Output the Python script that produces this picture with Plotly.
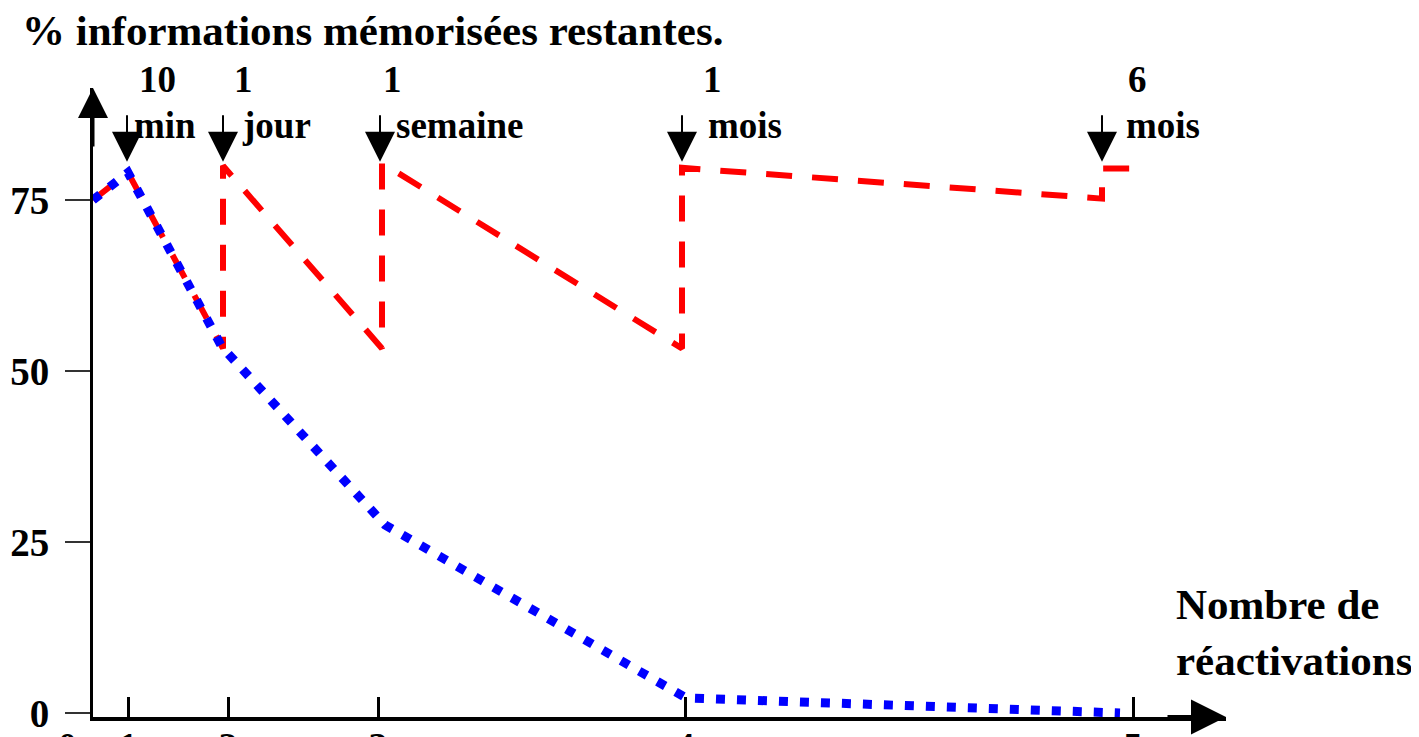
import plotly.graph_objects as go

# ---------------- data ----------------
# graduations of the hand-drawn x axis (number of reactivations 0..5)
tick_pos = [0, 35, 135, 285, 592, 1040]
tick_text = ["0", "1", "2", "3", "4", "5"]
y_ticks = [0, 25, 50, 75]

# with reactivations (red dashed)
red_x = [0, 35, 130, 130, 289, 289, 589, 589, 1009, 1009, 1037]
red_y = [75, 79, 53.3, 80, 53.3, 80.4, 53.3, 79.7, 75.2, 79.6, 79.6]

# without reactivation (blue dotted)
blue_x = [0, 35, 129, 292, 593, 1027]
blue_y = [75, 79, 53.5, 27.5, 2.2, 0]

# reactivation moments
event_x = [34, 130, 287, 589, 1009]
event_num = ["10", "1", "1", "1", "6"]
event_unit = ["min", "jour", "semaine", "mois", "mois"]

title_text = "% informations mémorisées restantes."
xtitle_text = "Nombre de<br>réactivations"

# ---------------- style ----------------
FONT = "Liberation Serif"
OFF = 8                      # page body margin
W, H = 1419 - OFF, 737 - OFF
ML, MT = 93 - OFF, 88 - OFF
BOTTOM = 717 - OFF
MB = H - BOTTOM
PLOT_W = 1133
PLOT_H = BOTTOM - MT
MR = W - ML - PLOT_W
PX_PER_UNIT = 6.84
y_lo = -4 / PX_PER_UNIT
y_hi = PLOT_H / PX_PER_UNIT + y_lo

num_shift = [30, 20, 12, 30, 35]    # px, centre of the number vs arrow
unit_shift = [5, 17, 14, 24, 22]    # px, left of the unit word vs arrow
NUM_Y = (717 - 79) / PLOT_H         # paper coords
UNIT_Y = (717 - 125) / PLOT_H

fig = go.Figure()
fig.add_trace(go.Scatter(
    x=red_x, y=red_y, mode="lines",
    line=dict(color="#ff0000", width=6, dash="26px,20px"),
    hoverinfo="skip", showlegend=False))
fig.add_trace(go.Scatter(
    x=blue_x, y=blue_y, mode="lines",
    line=dict(color="#0000ff", width=9, dash="9px,12px"),
    hoverinfo="skip", showlegend=False))

lab_font = dict(family=FONT, size=37, color="black", weight="bold")
ann = []
for i, ex in enumerate(event_x):
    ann.append(dict(x=ex, y=80.6, xref="x", yref="y", ax=0, ay=-48,
                    axref="pixel", ayref="pixel", text="", showarrow=True,
                    arrowhead=2, arrowsize=3, arrowwidth=2, arrowcolor="black",
                    standoff=0))
    ann.append(dict(x=ex, y=NUM_Y, xref="x", yref="paper", xshift=num_shift[i],
                    text=event_num[i], showarrow=False, xanchor="center",
                    yanchor="middle", font=lab_font))
    ann.append(dict(x=ex, y=UNIT_Y, xref="x", yref="paper", xshift=unit_shift[i],
                    text=event_unit[i], showarrow=False, xanchor="left",
                    yanchor="middle", font=lab_font))

# axis arrows
ann.append(dict(x=0, y=1, xref="paper", yref="paper", ax=0, ay=60, text="",
                showarrow=True, arrowhead=2, arrowsize=2, arrowwidth=3,
                arrowcolor="black", standoff=0))
ann.append(dict(x=1, y=0, xref="paper", yref="paper", ax=-60, ay=0, text="",
                showarrow=True, arrowhead=2, arrowsize=1.75, arrowwidth=4,
                arrowcolor="black", standoff=0))
# x axis title
ann.append(dict(x=1081, y=11.8, xref="x", yref="y", text=xtitle_text,
                showarrow=False, xanchor="left", yanchor="middle", align="left",
                font=dict(family=FONT, size=43, color="black", weight="bold")))
# label of the origin on the x axis
ann.append(dict(x=tick_pos[0], y=0, xref="x", yref="paper", xshift=-26,
                yshift=-6, text=tick_text[0], showarrow=False,
                xanchor="center", yanchor="top",
                font=dict(family=FONT, size=38, color="black", weight="bold")))

fig.update_layout(
    width=W, height=H,
    margin=dict(l=ML, r=MR, t=MT, b=MB, autoexpand=False),
    paper_bgcolor="white", plot_bgcolor="white",
    title=dict(text=title_text, x=14 / W, xanchor="left", xref="container",
               y=1 - 22 / H, yanchor="middle", yref="container",
               font=dict(family=FONT, size=43, color="black", weight="bold")),
    annotations=ann,
    xaxis=dict(range=[0, PLOT_W], showgrid=False, zeroline=False,
               automargin=False,
               showline=True, linecolor="black", linewidth=4,
               tickvals=tick_pos[1:], ticktext=tick_text[1:],
               ticks="inside", ticklen=20, tickwidth=2.5, tickcolor="black",
               ticklabelstandoff=-8,
               tickfont=dict(family=FONT, size=38, color="black", weight="bold")),
    yaxis=dict(range=[y_lo, y_hi],
               showgrid=False, zeroline=False, automargin=False,
               showline=True, linecolor="black", linewidth=3,
               tickvals=y_ticks, ticks="outside", ticklen=25, tickwidth=2,
               tickcolor="#333333", ticklabelstandoff=8,
               tickfont=dict(family=FONT, size=39, color="black", weight="bold")),
)

fig.write_html("out.html")
